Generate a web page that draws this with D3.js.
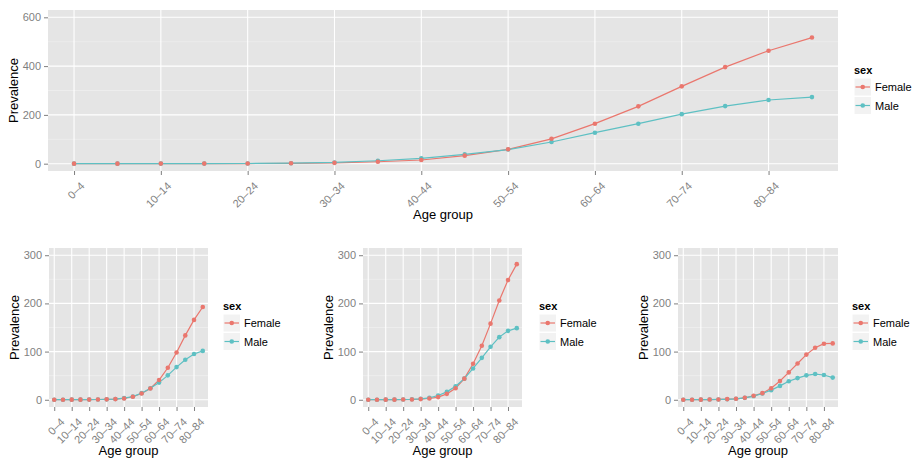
<!DOCTYPE html>
<html>
<head>
<meta charset="utf-8">
<script src="https://cdn.jsdelivr.net/npm/d3@7"></script>
<style>
  body { margin: 0; background: #fff; }
  svg { font-family: "Liberation Sans", Arial, sans-serif; }
</style>
</head>
<body>
<div id="chart"></div>
<script>
// age groups (x categories) and the labels shown on the axis
var ageGroups = ["0\u20134", "5\u20139", "10\u201314", "15\u201319", "20\u201324", "25\u201329",
  "30\u201334", "35\u201339", "40\u201344", "45\u201349", "50\u201354", "55\u201359",
  "60\u201364", "65\u201369", "70\u201374", "75\u201379", "80\u201384", "85+"];
var tickLabels = ["0\u20134", "10\u201314", "20\u201324", "30\u201334", "40\u201344",
  "50\u201354", "60\u201364", "70\u201374", "80\u201384"];
var sexes = ["Female", "Male"];

// prevalence values
var topFemale = [0.2, 0.2, 0.3, 0.4, 0.6, 1.5, 3.5, 8, 15, 33, 59, 102, 164, 235, 317, 396, 463, 517];
var topMale = [0.2, 0.2, 0.3, 0.4, 0.7, 2, 5, 12, 22, 38, 58, 89, 127, 164, 203, 236, 261, 273];
var leftFemale = [0.2, 0.2, 0.3, 0.3, 0.4, 0.6, 0.9, 1.4, 2.7, 6.2, 13, 23.3, 41, 66.4, 98, 133.6, 165.8, 192.5];
var leftMale = [0.2, 0.2, 0.3, 0.3, 0.4, 0.6, 0.9, 1.5, 3.4, 6.8, 13.7, 24, 35.6, 50.7, 67.8, 83, 95, 101.4];
var midFemale = [0.2, 0.2, 0.3, 0.3, 0.5, 0.7, 1.4, 2.7, 5.5, 12.3, 24, 43.8, 74.7, 112, 158, 206, 248.6, 281.5];
var midMale = [0.2, 0.2, 0.3, 0.4, 0.6, 1, 2, 4, 8.9, 16.4, 28, 43.8, 65, 87, 110, 130, 143, 148.6];
var rightFemale = [0.2, 0.2, 0.3, 0.5, 0.7, 1.4, 2, 4.1, 8.2, 13.7, 24, 39, 56.8, 75.3, 93.8, 108, 116.4, 117];
var rightMale = [0.2, 0.2, 0.3, 0.5, 0.7, 1, 2, 4, 7.5, 13, 20, 28.8, 38.4, 45, 50.7, 53.4, 51.4, 46];

var topTicks = [0, 200, 400, 600];
var bottomTicks = [0, 100, 200, 300];

var colour = d3.scaleOrdinal().domain(sexes).range(["#EA776E", "#5EC0C3"]);

var svg = d3.select("#chart").append("svg")
  .attr("width", 914)
  .attr("height", 461);

// panel layouts
var panels = [
  {left: 48, top: 10, width: 790, height: 161, ticks: topTicks, female: topFemale, male: topMale, legendX: 854, legendY: 74},
  {left: 49, top: 248, width: 159, height: 159, ticks: bottomTicks, female: leftFemale, male: leftMale, legendX: 223, legendY: 310},
  {left: 363, top: 248, width: 159, height: 159, ticks: bottomTicks, female: midFemale, male: midMale, legendX: 539, legendY: 310},
  {left: 678, top: 248, width: 160, height: 159, ticks: bottomTicks, female: rightFemale, male: rightMale, legendX: 852, legendY: 310}
];

panels.forEach(drawPanel);

function drawPanel(p) {
  var g = svg.append("g")
    .attr("transform", "translate(" + p.left + "," + p.top + ")");

  var yMax = d3.max(p.ticks);
  var x = d3.scalePoint().domain(ageGroups).range([0, p.width]).padding(0.6);
  var y = d3.scaleLinear().domain([-0.05 * yMax, 1.05 * yMax]).range([p.height, 0]);

  // background
  g.append("rect")
    .attr("width", p.width)
    .attr("height", p.height)
    .attr("fill", "#E5E5E5");

  // minor grid (between major ticks)
  var step = p.ticks[1] - p.ticks[0];
  var minor = p.ticks.slice(0, -1).map(function(t) { return t + step / 2; });
  g.selectAll(".minor").data(minor).enter().append("line")
    .attr("x1", 0).attr("x2", p.width)
    .attr("y1", function(d) { return y(d); })
    .attr("y2", function(d) { return y(d); })
    .attr("stroke", "#F2F2F2")
    .attr("stroke-width", 0.6);

  // major grid
  g.selectAll(".hmajor").data(p.ticks).enter().append("line")
    .attr("x1", 0).attr("x2", p.width)
    .attr("y1", function(d) { return y(d); })
    .attr("y2", function(d) { return y(d); })
    .attr("stroke", "#fff")
    .attr("stroke-width", 1.1);
  g.selectAll(".vmajor").data(tickLabels).enter().append("line")
    .attr("y1", 0).attr("y2", p.height)
    .attr("x1", function(d) { return x(d); })
    .attr("x2", function(d) { return x(d); })
    .attr("stroke", "#fff")
    .attr("stroke-width", 1.1);

  // axes
  var xAxis = g.append("g")
    .attr("transform", "translate(0," + p.height + ")")
    .call(d3.axisBottom(x).tickValues(tickLabels).tickSize(4).tickPadding(3));
  xAxis.select(".domain").remove();
  xAxis.selectAll("line").attr("stroke", "#7F7F7F");
  xAxis.selectAll("text")
    .attr("fill", "#7F7F7F")
    .style("font-size", "11px")
    .style("text-anchor", "end")
    .attr("dy", "0.35em")
    .attr("transform", "translate(3,8) rotate(-45)");

  var yAxis = g.append("g")
    .call(d3.axisLeft(y).tickValues(p.ticks).tickSize(4).tickPadding(3));
  yAxis.select(".domain").remove();
  yAxis.selectAll("line").attr("stroke", "#7F7F7F");
  yAxis.selectAll("text")
    .attr("fill", "#7F7F7F")
    .style("font-size", "11px");

  // axis titles
  g.append("text")
    .attr("x", p.width / 2)
    .attr("y", p.height + 48)
    .attr("text-anchor", "middle")
    .style("font-size", "13px")
    .text("Age group");
  g.append("text")
    .attr("transform", "translate(-30," + (p.height / 2) + ") rotate(-90)")
    .attr("text-anchor", "middle")
    .style("font-size", "13px")
    .text("Prevalence");

  // lines then points
  var series = [
    {sex: "Female", values: p.female},
    {sex: "Male", values: p.male}
  ];
  var line = d3.line()
    .x(function(d, i) { return x(ageGroups[i]); })
    .y(function(d) { return y(d); });

  series.forEach(function(s) {
    g.append("path")
      .datum(s.values)
      .attr("d", line)
      .attr("fill", "none")
      .attr("stroke", colour(s.sex))
      .attr("stroke-width", 1.2);
  });
  series.slice().reverse().forEach(function(s) {
    g.selectAll(null).data(s.values).enter().append("circle")
      .attr("cx", function(d, i) { return x(ageGroups[i]); })
      .attr("cy", function(d) { return y(d); })
      .attr("r", 2.3)
      .attr("fill", colour(s.sex));
  });

  // legend
  var leg = svg.append("g")
    .attr("transform", "translate(" + p.legendX + "," + p.legendY + ")");
  leg.append("text")
    .attr("x", 0)
    .attr("y", 0)
    .style("font-size", "11px")
    .style("font-weight", "bold")
    .text("sex");
  sexes.forEach(function(s, i) {
    var k = leg.append("g")
      .attr("transform", "translate(0," + (4 + i * 18.5) + ")");
    k.append("rect")
      .attr("width", 17.5).attr("height", 18)
      .attr("fill", "#F2F2F2")
      .attr("stroke", "#fff");
    k.append("line")
      .attr("x1", 1.5).attr("x2", 16)
      .attr("y1", 9).attr("y2", 9)
      .attr("stroke", colour(s))
      .attr("stroke-width", 1.2);
    k.append("circle")
      .attr("cx", 8.75).attr("cy", 9).attr("r", 2.3)
      .attr("fill", colour(s));
    k.append("text")
      .attr("x", 21)
      .attr("y", 13)
      .style("font-size", "11px")
      .text(s);
  });
}
</script>
</body>
</html>
